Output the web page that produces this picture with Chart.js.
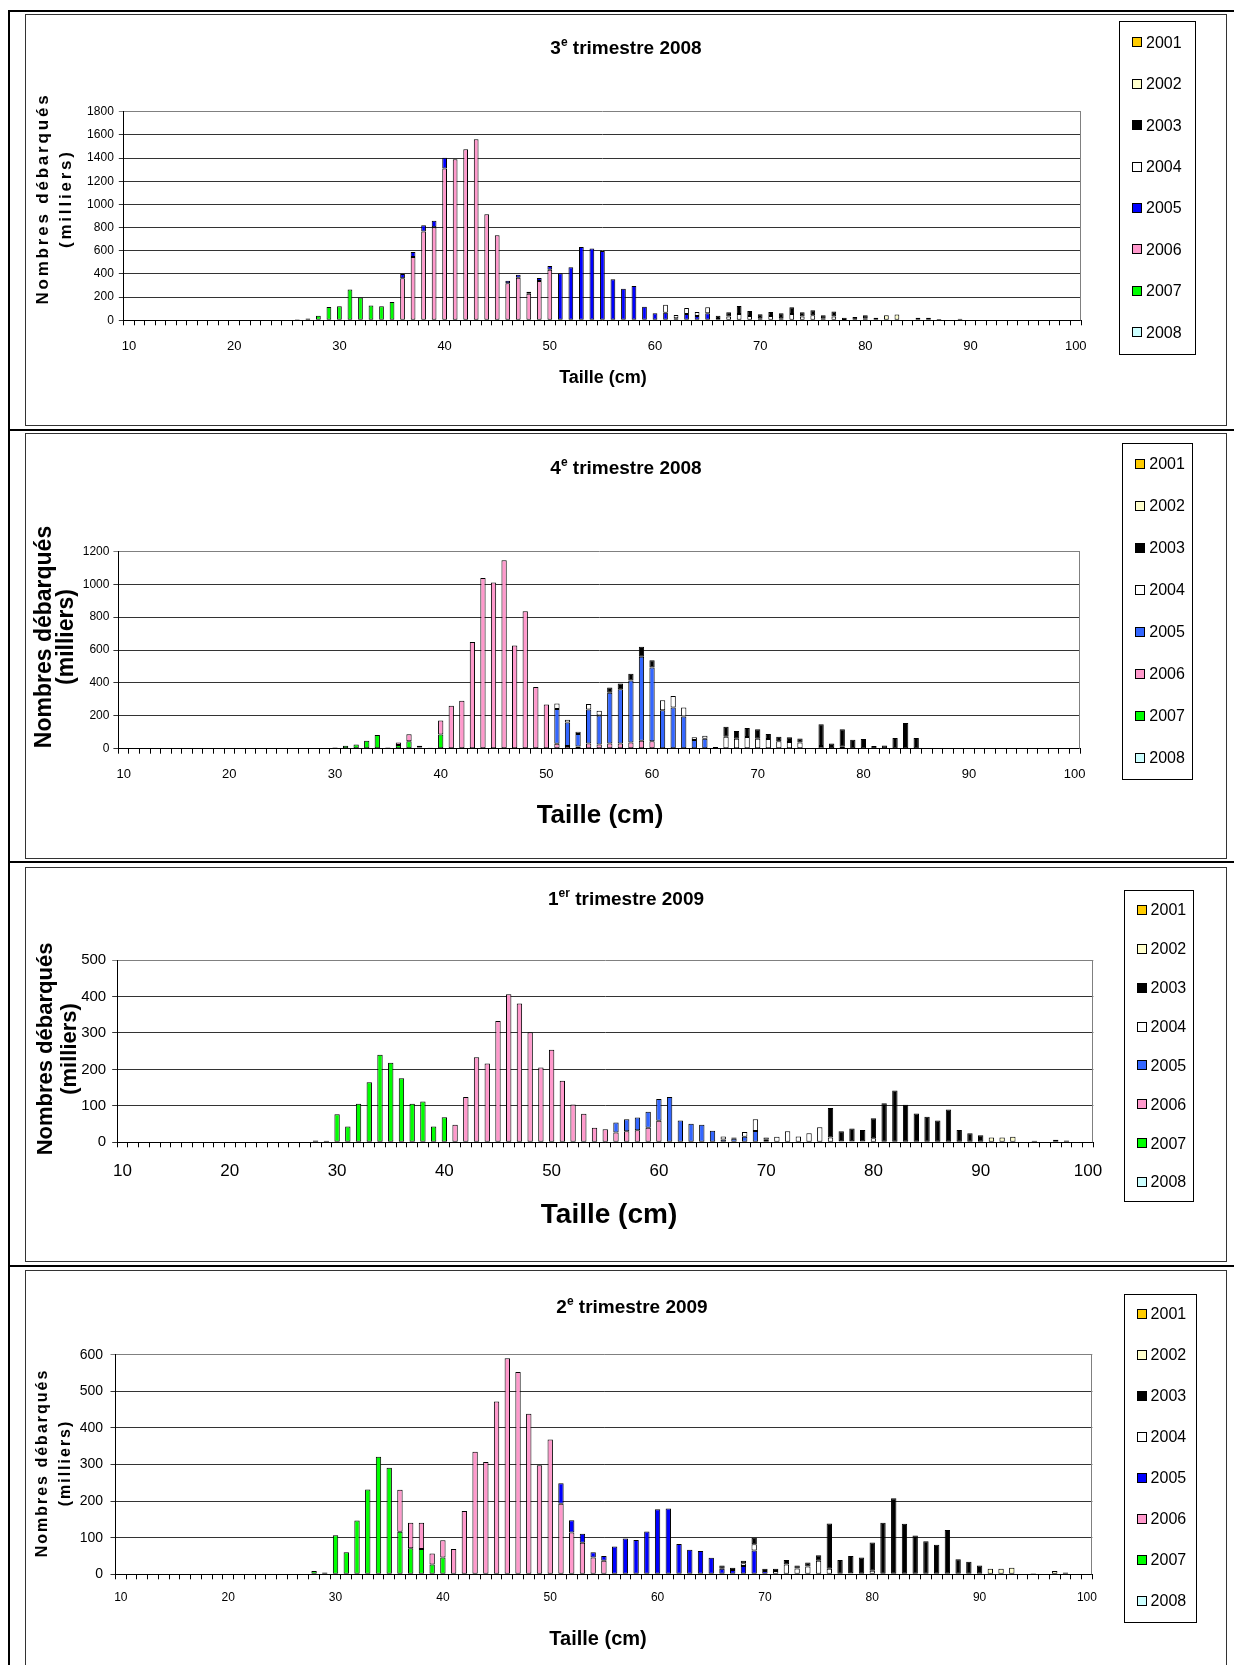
<!DOCTYPE html>
<html><head><meta charset="utf-8">
<script src="https://cdn.jsdelivr.net/npm/chart.js@4.4.0/dist/chart.umd.min.js"></script>
<style>
html,body{margin:0;padding:0;background:#fff;}
body{width:1234px;height:1665px;position:relative;overflow:hidden;}
.line{position:absolute;background:#000;}
.box{position:absolute;border:1px solid #333;box-sizing:border-box;}
canvas{position:absolute;left:0;}
</style></head><body>
<div class="line" style="left:8px;top:10px;width:2px;height:1655px"></div>
<div class="line" style="left:8px;top:10px;width:1226px;height:2px"></div>
<div class="line" style="left:8px;top:429px;width:1226px;height:2px"></div>
<div class="line" style="left:8px;top:861px;width:1226px;height:2px"></div>
<div class="line" style="left:8px;top:1265px;width:1226px;height:2px"></div>
<div class="box" style="left:25px;top:14px;width:1202px;height:412px"></div>
<div class="box" style="left:25px;top:433px;width:1202px;height:426px"></div>
<div class="box" style="left:25px;top:867px;width:1202px;height:395px"></div>
<div class="box" style="left:25px;top:1270px;width:1202px;height:420px"></div>
<canvas id="c1"></canvas>
<canvas id="c2"></canvas>
<canvas id="c3"></canvas>
<canvas id="c4"></canvas>
<script>
// ---------- categories (Taille, cm) ----------
const CATS = [];
for (let s = 10; s <= 100; s++) CATS.push(s);
const YEARS = ['2001','2002','2003','2004','2005','2006','2007','2008'];

// ---------- data (milliers), each series starts at "from" cm ----------
// 3e trimestre 2008
const q308_2002 = {from: 81, v: [23, 43, 49, 0, 23, 23, 0, 0, 14]};
const q308_2003 = {from: 66, v: [28, 37, 69, 43, 35, 35, 43, 58, 37, 43, 26, 43, 20, 25, 26, 0, 0, 0, 0, 0, 0, 12]};
const q308_2004 = {from: 61, v: [69, 28, 51, 35, 52, 12, 32, 55, 37, 17, 37, 17, 55, 32, 43, 17, 32, 3, 4, 17]};
const q308_2005 = {from: 36, v: [37, 43, 54, 57, 93, 0, 0, 0, 0, 0, 23, 26, 17, 25, 32, 406, 458, 633, 619, 599, 354, 273, 296, 118, 60, 66, 18, 55, 37, 60]};
const q308_2006 = {from: 36, v: [363, 547, 766, 803, 1309, 1390, 1476, 1563, 915, 734, 319, 368, 230, 340, 437]};
const q308_2007 = {from: 26, v: [8, 15, 40, 115, 121, 265, 196, 127, 121, 158]};

// 4e trimestre 2008
const q408_2003 = {from: 56, v: [32, 34, 41, 61, 45, 0, 0, 0, 0, 0, 10, 61, 47, 55, 57, 30, 28, 28, 24, 0, 132, 32, 106, 55, 59, 16, 20, 65, 156, 65]};
const q408_2004 = {from: 51, v: [34, 16, 14, 32, 28, 0, 0, 0, 0, 0, 61, 69, 55, 16, 18, 0, 73, 61, 71, 61, 59, 45, 41, 38, 0, 16, 0, 12]};
const q408_2005 = {from: 51, v: [211, 144, 75, 207, 176, 308, 330, 377, 510, 448, 233, 251, 196, 53, 61]};
const q408_2006 = {from: 36, v: [16, 43, 10, 0, 85, 261, 292, 648, 1037, 1011, 1145, 628, 835, 375, 269, 30, 16, 14, 32, 26, 32, 32, 38, 49, 45]};
const q408_2007 = {from: 29, v: [4, 8, 18, 26, 49, 83, 8, 22, 45, 8, 6, 87]};

// 1er trimestre 2009
const q109_2002 = {from: 91, v: [13, 13, 15, 0, 4, 0, 7, 5]};
const q109_2003 = {from: 76, v: [81, 27, 35, 31, 55, 107, 142, 103, 79, 70, 60, 90, 34, 25, 19]};
const q109_2004 = {from: 66, v: [8, 3, 13, 32, 6, 15, 30, 16, 25, 41, 13, 3, 3, 3, 11]};
const q109_2005 = {from: 56, v: [27, 33, 35, 44, 60, 124, 60, 51, 48, 32, 8, 10, 15, 31, 7]};
const q109_2006 = {from: 41, v: [48, 124, 233, 216, 333, 406, 381, 302, 205, 254, 169, 104, 78, 40, 36, 27, 30, 33, 40, 59]};
const q109_2007 = {from: 28, v: [5, 4, 77, 43, 106, 165, 240, 218, 176, 106, 112, 43, 69]};

// 2e trimestre 2009
const q209_2002 = {from: 91, v: [15, 15, 18, 0, 3, 0, 9, 5]};
const q209_2003 = {from: 66, v: [9, 6, 7, 18, 6, 6, 12, 8, 11, 15, 124, 39, 47, 46, 77, 141, 208, 138, 106, 90, 81, 121, 41, 34, 24]};
const q209_2004 = {from: 68, v: [7, 17, 0, 9, 27, 16, 21, 37, 15, 0, 3, 0, 10]};
const q209_2005 = {from: 51, v: [56, 34, 25, 14, 13, 76, 98, 94, 117, 178, 180, 83, 67, 64, 45, 15, 12, 23, 65, 9]};
const q209_2006 = {from: 36, v: [115, 70, 72, 30, 47, 69, 173, 335, 307, 472, 590, 553, 439, 298, 368, 193, 114, 86, 46, 37]};
const q209_2007 = {from: 28, v: [9, 5, 107, 60, 147, 232, 321, 291, 116, 71, 69, 27, 46]};

const EMPTY = {from: 10, v: []};

// ---------- styles / layout ----------
const FONT = '"Liberation Sans", Arial, Helvetica, sans-serif';
function colorsFor(blue) {
  return {'2001': '#FFCC00', '2002': '#FFFFCC', '2003': '#000000', '2004': '#FFFFFF',
          '2005': blue, '2006': '#FF99CC', '2007': '#00FF00', '2008': '#CCFFFF'};
}

const PANELS = [
  { id: 'c1', top: 0, height: 430, series: {'2001': EMPTY, '2002': q308_2002, '2003': q308_2003, '2004': q308_2004, '2005': q308_2005, '2006': q308_2006, '2007': q308_2007, '2008': EMPTY},
    plot: {l: 123.8, r: 1081, t: 111.7, b: 320.3}, yMax: 1800, yStep: 200, yFont: 12, xFont: 13, xPad: 13, yPad: 5, blue: '#0000FF', barPct: 0.45,
    title: {parts: ['3', 'e', ' trimestre 2008'], x: 626, y: 47, size: 19},
    xTitle: {x: 603, y: 378, size: 18},
    yTitle: {size: 17, spacing: 2.8, x1: 43.5, x2: 66, cy: 200},
    legend: {l: 1119, r: 1195, t: 20.7, b: 353.3, y0: 42.3, step: 41.43, font: 16} },
  { id: 'c2', top: 431, height: 431, series: {'2001': EMPTY, '2002': EMPTY, '2003': q408_2003, '2004': q408_2004, '2005': q408_2005, '2006': q408_2006, '2007': q408_2007, '2008': EMPTY},
    plot: {l: 118.4, r: 1080, t: 551.3, b: 748.7}, yMax: 1200, yStep: 200, yFont: 12, xFont: 13, xPad: 12.8, yPad: 4, blue: '#3366FF', barPct: 0.5,
    title: {parts: ['4', 'e', ' trimestre 2008'], x: 626, y: 467, size: 19},
    xTitle: {x: 600, y: 815.6, size: 26},
    yTitle: {size: 23, spacing: 0, x1: 44.6, x2: 67, cy: 637},
    legend: {l: 1122.3, r: 1192, t: 442.7, b: 778.4, y0: 464, step: 42, font: 16} },
  { id: 'c3', top: 863, height: 403, series: {'2001': EMPTY, '2002': q109_2002, '2003': q109_2003, '2004': q109_2004, '2005': q109_2005, '2006': q109_2006, '2007': q109_2007, '2008': EMPTY},
    plot: {l: 117.2, r: 1093.3, t: 960, b: 1142.3}, yMax: 500, yStep: 100, yFont: 15, xFont: 17, xPad: 14, yPad: 6, blue: '#3366FF', barPct: 0.5,
    title: {parts: ['1', 'er', ' trimestre 2009'], x: 626, y: 898, size: 19},
    xTitle: {x: 609, y: 1215, size: 28},
    yTitle: {size: 22, spacing: 0, x1: 46, x2: 70, cy: 1049},
    legend: {l: 1123.6, r: 1192.6, t: 890, b: 1201, y0: 910, step: 38.86, font: 16} },
  { id: 'c4', top: 1267, height: 398, series: {'2001': EMPTY, '2002': q209_2002, '2003': q209_2003, '2004': q209_2004, '2005': q209_2005, '2006': q209_2006, '2007': q209_2007, '2008': EMPTY},
    plot: {l: 115.5, r: 1092.3, t: 1354.7, b: 1574.3}, yMax: 600, yStep: 100, yFont: 14, xFont: 12, xPad: 11, yPad: 7.5, blue: '#0000FF', barPct: 0.5,
    title: {parts: ['2', 'e', ' trimestre 2009'], x: 632, y: 1306, size: 19},
    xTitle: {x: 598, y: 1639, size: 20},
    yTitle: {size: 16, spacing: 2, x1: 42.5, x2: 66, cy: 1464},
    legend: {l: 1123.6, r: 1195.8, t: 1293.5, b: 1621.7, y0: 1314, step: 41, font: 16} }
];

function expand(series) {
  const out = CATS.map(() => null);
  series.v.forEach((val, i) => { const idx = series.from + i - CATS[0]; if (val) out[idx] = val; });
  return out;
}

const decoPlugin = {
  id: 'deco',
  afterDraw(chart, args, o) {
    const ctx = chart.ctx, T = o.top, ca = chart.chartArea;
    ctx.save();
    ctx.strokeStyle = '#808080'; ctx.lineWidth = 1;
    ctx.beginPath(); ctx.moveTo(Math.round(ca.right) - 0.5, ca.top); ctx.lineTo(Math.round(ca.right) - 0.5, ca.bottom); ctx.stroke();
    ctx.fillStyle = '#000';
    const t = o.title;
    const big = `bold ${t.size}px ${FONT}`, small = `bold ${Math.round(t.size * 0.62)}px ${FONT}`;
    ctx.font = big; const w0 = ctx.measureText(t.parts[0]).width, w2 = ctx.measureText(t.parts[2]).width;
    ctx.font = small; const w1 = ctx.measureText(t.parts[1]).width;
    let x = t.x - (w0 + w1 + w2) / 2; const base = t.y - T + t.size * 0.36;
    ctx.textAlign = 'left'; ctx.textBaseline = 'alphabetic';
    ctx.font = big; ctx.fillText(t.parts[0], x, base); x += w0;
    ctx.font = small; ctx.fillText(t.parts[1], x, base - t.size * 0.4); x += w1;
    ctx.font = big; ctx.fillText(t.parts[2], x, base);
    ctx.font = `bold ${o.xTitle.size}px ${FONT}`; ctx.textAlign = 'center'; ctx.textBaseline = 'middle';
    ctx.fillText('Taille (cm)', o.xTitle.x, o.xTitle.y - T);
    const yt = o.yTitle;
    ctx.font = `bold ${yt.size}px ${FONT}`;
    if ('letterSpacing' in ctx) ctx.letterSpacing = yt.spacing + 'px';
    [[yt.x1, 'Nombres débarqués'], [yt.x2, '(milliers)']].forEach(([lx, txt]) => {
      ctx.save(); ctx.translate(lx, yt.cy - T); ctx.rotate(-Math.PI / 2);
      ctx.textAlign = 'center'; ctx.textBaseline = 'middle'; ctx.fillText(txt, yt.spacing / 2, 0); ctx.restore();
    });
    if ('letterSpacing' in ctx) ctx.letterSpacing = '0px';
    const L = o.legend;
    ctx.strokeStyle = '#000'; ctx.lineWidth = 1;
    ctx.strokeRect(Math.round(L.l) + 0.5, Math.round(L.t - T) + 0.5, Math.round(L.r - L.l), Math.round(L.b - L.t));
    ctx.font = `${L.font}px ${FONT}`; ctx.textAlign = 'left'; ctx.textBaseline = 'middle';
    const cols = colorsFor(o.blue);
    YEARS.forEach((yr, i) => {
      const cy = L.y0 + i * L.step - T;
      const sx = Math.round(L.l + 13), sy = Math.round(cy - 5);
      ctx.fillStyle = cols[yr]; ctx.fillRect(sx, sy, 10, 10);
      ctx.strokeStyle = '#000'; ctx.strokeRect(sx + 0.5, sy + 0.5, 9, 9);
      ctx.fillStyle = '#000'; ctx.fillText(yr, L.l + 27, cy + 1);
    });
    ctx.restore();
  }
};

PANELS.forEach(p => {
  const cv = document.getElementById(p.id);
  cv.width = 1234; cv.height = p.height; cv.style.top = p.top + 'px';
  const cols = colorsFor(p.blue);
  const YW = 50, XH = 50;
  const datasets = YEARS.slice().reverse().map(yr => ({
    label: yr, data: expand(p.series[yr]), backgroundColor: cols[yr], borderColor: '#000', borderWidth: 1,
    borderSkipped: false, barPercentage: p.barPct, categoryPercentage: 1
  }));
  new Chart(cv, {
    type: 'bar',
    data: {labels: CATS, datasets},
    options: {
      responsive: false, animation: false, devicePixelRatio: 1,
      layout: {padding: {left: p.plot.l - YW, right: 1234 - p.plot.r, top: p.plot.t - p.top, bottom: (p.top + p.height) - p.plot.b - XH}},
      plugins: {legend: {display: false}, tooltip: {enabled: false}, title: {display: false},
        deco: {top: p.top, title: p.title, xTitle: p.xTitle, yTitle: p.yTitle, legend: p.legend, blue: p.blue}},
      scales: {
        x: {
          stacked: true, offset: true,
          grid: {offset: true, drawOnChartArea: false, drawTicks: true, tickLength: 5, color: '#000'},
          border: {display: true, color: '#000', width: 1},
          ticks: {autoSkip: false, maxRotation: 0, minRotation: 0, padding: p.xPad, color: '#000',
            font: {family: FONT, size: p.xFont},
            callback: (v, i) => (CATS[i] % 10 === 0 ? String(CATS[i]) : '')},
          afterFit: s => { s.height = XH; }
        },
        y: {
          stacked: true, min: 0, max: p.yMax,
          grid: {drawTicks: true, tickLength: 5,
            color: ctx => (ctx.tick && ctx.tick.value === p.yMax) ? '#808080' : '#333'},
          border: {display: true, color: '#000', width: 1},
          ticks: {stepSize: p.yStep, padding: p.yPad, color: '#000', font: {family: FONT, size: p.yFont},
            callback: v => String(v)},
          afterFit: s => { s.width = YW; }
        }
      }
    },
    plugins: [decoPlugin]
  });
});
</script>
</body></html>
